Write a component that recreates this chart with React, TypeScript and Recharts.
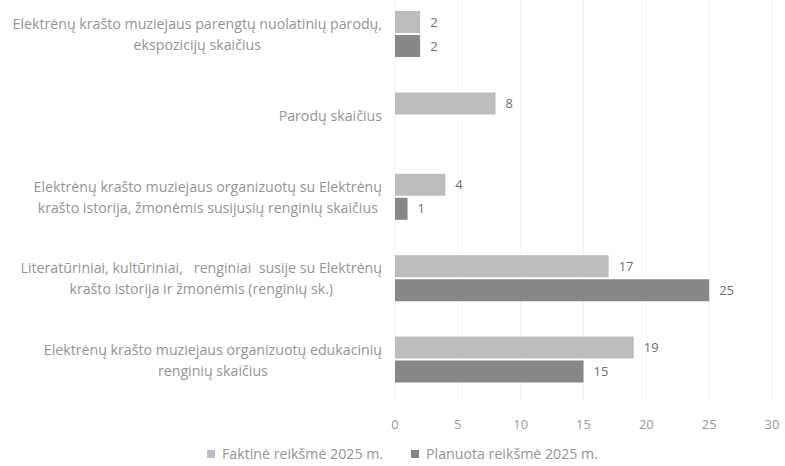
import React from 'react';
import { BarChart, Bar, XAxis, YAxis, CartesianGrid, LabelList, Legend } from 'recharts';

const categories = [
  'Elektrėnų krašto muziejaus parengtų nuolatinių parodų, ekspozicijų skaičius',
  'Parodų skaičius',
  'Elektrėnų krašto muziejaus organizuotų su Elektrėnų krašto istorija, žmonėmis susijusių renginių skaičius',
  'Literatūriniai, kultūriniai,   renginiai  susije su Elektrėnų krašto istorija ir žmonėmis (renginių sk.)',
  'Elektrėnų krašto muziejaus organizuotų edukacinių renginių skaičius',
];

// how each category label wraps, as in the source chart
const categoryLines = [
  ['Elektrėnų krašto muziejaus parengtų nuolatinių parodų,', 'ekspozicijų skaičius'],
  ['Parodų skaičius'],
  ['Elektrėnų krašto muziejaus organizuotų su Elektrėnų', 'krašto istorija, žmonėmis susijusių renginių skaičius'],
  ['Literatūriniai, kultūriniai,   renginiai  susije su Elektrėnų', 'krašto istorija ir žmonėmis (renginių sk.)'],
  ['Elektrėnų krašto muziejaus organizuotų edukacinių', 'renginių skaičius'],
];

const faktine = [2, 8, 4, 17, 19];
const planuota: (number | null)[] = [2, null, 1, 25, 15];

const xTicks = [0, 5, 10, 15, 20, 25, 30];

const seriesNames = ['Faktinė reikšmė 2025 m.', 'Planuota reikšmė 2025 m.'];
const colors = ['#bdbdbd', '#878787'];

const FONT = '"Open Sans", sans-serif';
const FONT_SIZE = 14.2;

const data = categories.map((name, i) => ({
  name,
  faktine: faktine[i],
  planuota: planuota[i],
}));

let ctx: CanvasRenderingContext2D | null = null;
const textWidth = (s: string) => {
  if (!ctx) {
    ctx = document.createElement('canvas').getContext('2d');
  }
  if (!ctx) return s.length * 7;
  ctx.font = `${FONT_SIZE}px "Open Sans"`;
  return ctx.measureText(s).width;
};

const CategoryTick = (props: any) => {
  const { y, payload } = props;
  const idx = categories.indexOf(payload.value);
  const lines = categoryLines[idx] || [payload.value];
  const maxW = Math.max(...lines.map(textWidth));
  const cx = 382 - maxW / 2;
  const lineH = 21;
  const startY = y - ((lines.length - 1) * lineH) / 2;
  return (
    <text
      x={cx}
      y={startY}
      textAnchor="middle"
      dominantBaseline="central"
      fill="#959595"
      fontSize={FONT_SIZE}
      fontFamily={FONT}
    >
      {lines.map((l, i) => (
        <tspan key={i} x={cx} y={startY + i * lineH} style={{ whiteSpace: 'pre' }}>
          {l}
        </tspan>
      ))}
    </text>
  );
};

const LegendContent = () => (
  <div
    style={{
      display: 'flex',
      justifyContent: 'center',
      gap: 28,
      fontFamily: FONT,
      fontSize: 14.2,
      color: '#959595',
      lineHeight: '18px',
    }}
  >
    {seriesNames.map((n, i) => (
      <div key={n} style={{ display: 'flex', alignItems: 'center', gap: 7 }}>
        <span style={{ width: 8, height: 8, background: colors[i], display: 'inline-block' }} />
        <span>{n}</span>
      </div>
    ))}
  </div>
);

export default function App() {
  return (
    <div style={{ position: 'absolute', left: 0, top: 0, width: 785, height: 466, background: '#fff' }}>
      <BarChart
        width={785}
        height={466}
        data={data}
        layout="vertical"
        margin={{ top: -7, right: 13, bottom: 18, left: 0 }}
        barSize={22}
        barGap={2}
      >
        <CartesianGrid horizontal={false} stroke="#f2f2f2" />
        <XAxis
          type="number"
          domain={[0, 30]}
          ticks={xTicks}
          height={30}
          axisLine={false}
          tickLine={false}
          tickMargin={14}
          tick={{ fill: '#9a9a9a', fontSize: 13, fontFamily: FONT }}
        />
        <YAxis
          type="category"
          dataKey="name"
          width={395}
          axisLine={false}
          tickLine={false}
          tick={<CategoryTick />}
          interval={0}
        />
        <Legend
          verticalAlign="bottom"
          content={<LegendContent />}
          wrapperStyle={{ left: 10, width: 785, bottom: 3 }}
        />
        <Bar dataKey="faktine" name={seriesNames[0]} fill={colors[0]} isAnimationActive={false}>
          <LabelList
            dataKey="faktine"
            position="right"
            offset={10}
            fill="#707070"
            fontSize={13}
            fontFamily={FONT}
          />
        </Bar>
        <Bar dataKey="planuota" name={seriesNames[1]} fill={colors[1]} isAnimationActive={false}>
          <LabelList
            dataKey="planuota"
            position="right"
            offset={10}
            fill="#707070"
            fontSize={13}
            fontFamily={FONT}
          />
        </Bar>
      </BarChart>
    </div>
  );
}
